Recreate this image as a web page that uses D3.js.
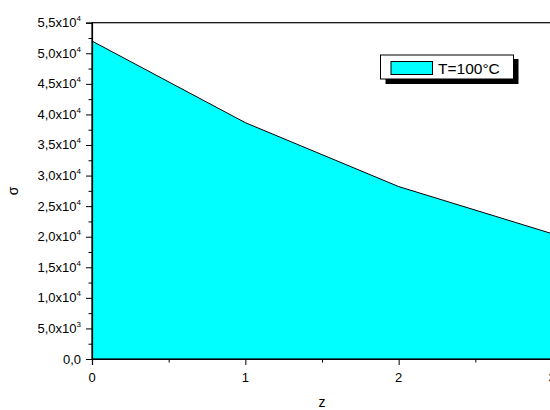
<!DOCTYPE html>
<html>
<head>
<meta charset="utf-8">
<script src="https://cdn.jsdelivr.net/npm/d3@7"></script>
<style>
  html, body { margin: 0; padding: 0; background: #fff; }
  svg { display: block; }
  text { font-family: "Liberation Sans", Arial, sans-serif; fill: #000; }
</style>
</head>
<body>
<svg id="chart" width="550" height="410"></svg>
<script>
// ---- data ----
const zValues = [0, 1, 2, 3];
const sigmaValues = [52000, 38650, 28200, 20500];
const seriesName = "T=100°C";
const xTicks = [0, 1, 2, 3];
const xTickLabels = ["0", "1", "2", "3"];
const xMinorTicks = [0.5, 1.5, 2.5];
const yTicks = [0, 5000, 10000, 15000, 20000, 25000, 30000, 35000, 40000, 45000, 50000, 55000];
const yTickLabels = ["0,0", "5,0x10^3", "1,0x10^4", "1,5x10^4", "2,0x10^4", "2,5x10^4",
                     "3,0x10^4", "3,5x10^4", "4,0x10^4", "4,5x10^4", "5,0x10^4", "5,5x10^4"];
const yMinorTicks = [2500, 7500, 12500, 17500, 22500, 27500, 32500, 37500, 42500, 47500, 52500];
const xLabel = "z";
const yLabel = "σ";

// ---- layout ----
const pLeft = 92, pTop = 22.7, pRight = 552, pBottom = 359;
const svg = d3.select("#chart");
const x = d3.scaleLinear().domain([0, 3]).range([pLeft, pRight]);
const y = d3.scaleLinear().domain([0, 55000]).range([pBottom, pTop]);

const pts = zValues.map((z, i) => ({ z, s: sigmaValues[i] }));

// area
svg.append("path")
  .datum(pts)
  .attr("d", d3.area().x(d => x(d.z)).y0(y(0)).y1(d => y(d.s)))
  .attr("fill", "#00FFFF");
svg.append("path")
  .datum(pts)
  .attr("d", d3.line().x(d => x(d.z)).y(d => y(d.s)))
  .attr("fill", "none")
  .attr("stroke", "#000")
  .attr("stroke-width", 1);

// frame
svg.append("rect")
  .attr("x", pLeft).attr("y", pTop)
  .attr("width", pRight - pLeft).attr("height", pBottom - pTop)
  .attr("fill", "none").attr("stroke", "#000").attr("stroke-width", 1.2);

// y axis
const yAxis = svg.append("g").attr("transform", `translate(${pLeft},0)`)
  .call(d3.axisLeft(y).tickValues(yTicks).tickSize(6).tickFormat(""));
yAxis.select(".domain").attr("stroke-width", 1.2);
const yMinor = svg.append("g").attr("transform", `translate(${pLeft},0)`)
  .call(d3.axisLeft(y).tickValues(yMinorTicks).tickSize(3.5).tickFormat(""));
yMinor.select(".domain").remove();

yTicks.forEach((v, i) => {
  const parts = yTickLabels[i].split("^");
  const t = svg.append("text")
    .attr("x", 81).attr("y", y(v) + 4.5)
    .attr("text-anchor", "end")
    .attr("font-size", 13);
  t.append("tspan").text(parts[0]);
  if (parts[1]) {
    t.append("tspan").attr("dy", -6).attr("font-size", 8).text(parts[1]);
  }
});

// x axis
const xAxis = svg.append("g").attr("transform", `translate(0,${pBottom})`)
  .call(d3.axisBottom(x).tickValues(xTicks).tickSize(6).tickFormat(""));
xAxis.select(".domain").attr("stroke-width", 1.2);
const xMinor = svg.append("g").attr("transform", `translate(0,${pBottom})`)
  .call(d3.axisBottom(x).tickValues(xMinorTicks).tickSize(3.5).tickFormat(""));
xMinor.select(".domain").remove();

xTicks.forEach((v, i) => {
  svg.append("text")
    .attr("x", x(v)).attr("y", 382)
    .attr("text-anchor", "middle")
    .attr("font-size", 13)
    .text(xTickLabels[i]);
});

// axis titles
svg.append("text")
  .attr("x", x(1.5)).attr("y", 407)
  .attr("text-anchor", "middle")
  .attr("font-size", 14)
  .text(xLabel);
svg.append("text")
  .attr("transform", `translate(18,${(pTop + pBottom) / 2}) rotate(-90)`)
  .attr("text-anchor", "middle")
  .attr("font-size", 14)
  .text(yLabel);

// legend
const lg = svg.append("g");
lg.append("rect").attr("x", 385.5).attr("y", 59).attr("width", 133).attr("height", 25).attr("fill", "#000");
lg.append("rect").attr("x", 380.5).attr("y", 55).attr("width", 133).attr("height", 24)
  .attr("fill", "#fff").attr("stroke", "#000").attr("stroke-width", 1);
lg.append("rect").attr("x", 391).attr("y", 61.5).attr("width", 41.5).attr("height", 13)
  .attr("fill", "#00FFFF").attr("stroke", "#000").attr("stroke-width", 1);
lg.append("text").attr("x", 438).attr("y", 73.5).attr("font-size", 15.5).text(seriesName);
</script>
</body>
</html>
